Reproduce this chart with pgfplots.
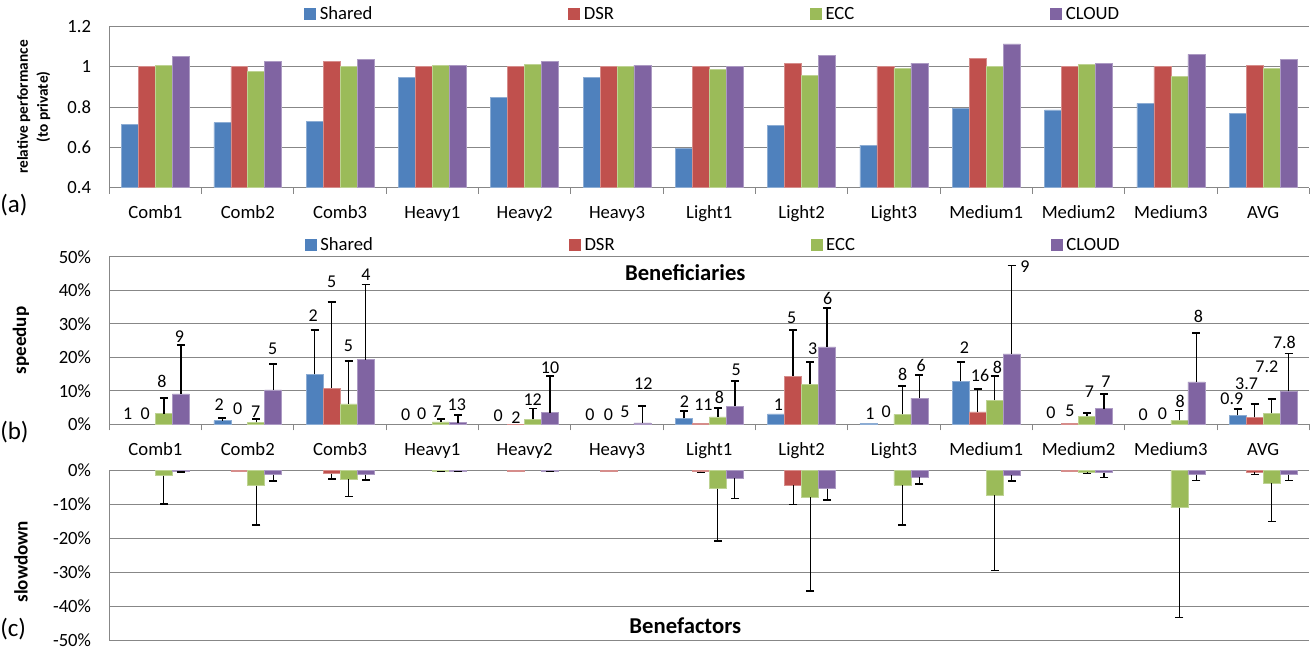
\documentclass[border=0pt]{standalone}
\usepackage{fontspec}
\setmainfont{Carlito}
\usepackage{pgfplots}
\pgfplotsset{compat=1.18}
\usepackage{pgfplotstable}
\definecolor{cshared}{HTML}{4F81BD}
\definecolor{cdsr}{HTML}{C0504D}
\definecolor{cecc}{HTML}{9BBB59}
\definecolor{ccloud}{HTML}{8064A2}
\definecolor{gridgray}{HTML}{878787}

\pgfplotstableread{
i shared dsr ecc cloud
0 0.714 1.000 1.008 1.050
1 0.722 1.000 0.978 1.025
2 0.728 1.028 1.003 1.038
3 0.949 1.000 1.005 1.008
4 0.849 1.000 1.013 1.025
5 0.949 1.000 1.002 1.008
6 0.596 1.000 0.988 1.002
7 0.710 1.018 0.959 1.055
8 0.610 1.000 0.993 1.018
9 0.793 1.040 1.003 1.114
10 0.786 1.000 1.010 1.018
11 0.818 1.000 0.952 1.061
12 0.770 1.008 0.993 1.035
}\perf

\pgfplotsset{
  common/.style={
    scale only axis, width=900pt, xmin=-0.5, xmax=12.5,
    axis line style={draw=gridgray, line width=0.75pt, -},
    ymajorgrids, major grid style={draw=gridgray, line width=0.75pt},
    major tick length=0pt, minor tick length=4.5pt, tick align=outside,
    minor tick style={draw=gridgray, line width=0.75pt},
    tick label style={font=\fontsize{14}{16}\selectfont},
    yticklabel style={inner sep=0pt, anchor=east, xshift=-13.5pt},
    xticklabel style={inner sep=0pt, anchor=base, yshift=-23pt},
    xtick={0,...,12}, minor xtick={-0.5,0.5,...,12.5},
    xticklabels={Comb1,Comb2,Comb3,Heavy1,Heavy2,Heavy3,Light1,Light2,Light3,Medium1,Medium2,Medium3,AVG},
    legend columns=4,
    legend style={draw=none, fill=none, inner sep=0pt, outer sep=0pt, anchor=west,
      font=\fontsize{14}{16}\selectfont, nodes={inner sep=1pt},
      /tikz/every even column/.append style={column sep=146pt},
      /tikz/every odd column/.append style={column sep=2pt}},
  },
  bars/.style={ybar, bar width=0.184, bar shift=0pt, fill=#1, draw=#1!65!white, line width=0.4pt, forget plot},
  ebB/.style={error bars/y dir=plus, error bars/y explicit,
    error bars/error bar style={black, line width=1.1pt},
    error bars/error mark options={rotate=90, black, line width=1.3pt, mark size=3pt}},
  ebC/.style={error bars/y dir=minus, error bars/y explicit,
    error bars/error bar style={black, line width=0.8pt},
    error bars/error mark options={rotate=90, black, line width=1.1pt, mark size=3pt}},
  labs/.style={only marks, mark=*, mark size=0pt, mark options={draw=none, fill=none}, forget plot,
    nodes near coords, point meta=explicit symbolic,
    every node near coord/.style={anchor=center, inner sep=0pt, font=\fontsize{13.5}{15}\selectfont, black}},
}

\newcommand{\legimgs}{%
  \addlegendimage{legend image code/.code={\fill[cshared] (0pt,-4.1pt) rectangle (8.2pt,4.1pt);}}
  \addlegendentry{Shared}
  \addlegendimage{legend image code/.code={\fill[cdsr] (0pt,-4.1pt) rectangle (8.2pt,4.1pt);}}
  \addlegendentry{DSR}
  \addlegendimage{legend image code/.code={\fill[cecc] (0pt,-4.1pt) rectangle (8.2pt,4.1pt);}}
  \addlegendentry{ECC}
  \addlegendimage{legend image code/.code={\fill[ccloud] (0pt,-4.1pt) rectangle (8.2pt,4.1pt);}}
  \addlegendentry{CLOUD}
}

\begin{document}
\begin{tikzpicture}
\useasboundingbox (0,0) rectangle (984pt,488.25pt);

% ---------------- panel (a)
\begin{axis}[common, at={(81.975pt,347.625pt)}, anchor=south west, height=120.75pt,
  axis x line*=bottom, axis y line*=left,
  ymin=0.4, ymax=1.2, ytick={0.4,0.6,0.8,1,1.2}, yticklabels={0.4,0.6,0.8,1,1.2},
  legend style={at={(0.1625,1.0776)}},
  ylabel={relative performance\\(to private)},
  ylabel style={at={(axis description cs:-0.063,0.5)}, anchor=center, align=center,
    font=\bfseries\fontsize{11.5}{15}\selectfont},
]
\legimgs
\addplot[bars=cshared] table[x expr=\thisrow{i}-0.276, y=shared] {\perf};
\addplot[bars=cdsr] table[x expr=\thisrow{i}-0.092, y=dsr] {\perf};
\addplot[bars=cecc] table[x expr=\thisrow{i}+0.092, y=ecc] {\perf};
\addplot[bars=ccloud] table[x expr=\thisrow{i}+0.276, y=cloud] {\perf};
\end{axis}

% ---------------- panel (b)
\begin{axis}[common, at={(81.975pt,170.0pt)}, anchor=south west, height=125.7pt,
  axis x line*=bottom, axis y line*=left, clip=false,
  ymin=0, ymax=50, ytick={0,10,20,30,40,50}, yticklabels={0\%,10\%,20\%,30\%,40\%,50\%},
  legend style={at={(0.163,1.0698)}},
  ylabel={speedup},
  ylabel style={at={(axis description cs:-0.0736,0.5)}, anchor=center,
    font=\bfseries\fontsize{14.3}{16}\selectfont},
]
\legimgs
% Shared
\addplot[bars=cshared, ebB] coordinates {(0.724,1.1) +- (0,0.9) (1.724,14.9) +- (0,13.3) (5.724,1.8) +- (0,2.2) (8.724,12.8) +- (0,5.8) (11.724,2.7) +- (0,1.8)};
\addplot[bars=cshared] coordinates {(6.724,3.1) (7.724,0.2)};
% DSR
\addplot[bars=cdsr, ebB] coordinates {(1.908,10.8) +- (0,25.6) (6.908,14.4) +- (0,13.8) (8.908,3.7) +- (0,6.8) (11.908,2.1) +- (0,4.0)};
\addplot[bars=cdsr] coordinates {(3.908,0.1) (5.908,0.2) (9.908,0.2)};
% ECC
\addplot[bars=cecc, ebB] coordinates {(0.092,3.2) +- (0,4.6) (1.092,0.6) +- (0,1.1) (2.092,6.1) +- (0,12.8) (3.092,0.7) +- (0,0.8) (4.092,1.5) +- (0,3.2) (6.092,2.2) +- (0,2.6) (7.092,12.0) +- (0,6.6) (8.092,3.0) +- (0,8.4) (9.092,7.2) +- (0,7.2) (10.092,2.4) +- (0,0.9) (11.092,1.2) +- (0,2.9) (12.092,3.3) +- (0,4.3)};
% CLOUD
\addplot[bars=ccloud, ebB] coordinates {(0.276,9.1) +- (0,14.5) (1.276,10.3) +- (0,7.7) (2.276,19.3) +- (0,22.4) (3.276,0.5) +- (0,2.3) (4.276,3.5) +- (0,11.0) (5.276,0.4) +- (0,5.0) (6.276,5.4) +- (0,7.6) (7.276,23.1) +- (0,11.6) (8.276,7.8) +- (0,7.0) (9.276,21.0) +- (0,26.4) (10.276,4.7) +- (0,4.3) (11.276,12.7) +- (0,14.5) (12.276,9.8) +- (0,11.3)};
% data labels
\addplot[labs] coordinates {
 (-0.30,3.1) [1] (-0.11,3.1) [0] (0.07,12.7) [8] (0.26,26.1) [9]
 (0.69,5.8) [2] (0.89,4.8) [0] (1.086,3.8) [7] (1.27,22.4) [5]
 (1.71,32.3) [2] (1.91,42.5) [5] (2.09,23.5) [5] (2.28,44.5) [4]
 (2.71,3.0) [0] (2.885,3.3) [0] (3.05,3.8) [7] (3.264,6.0) [13]
 (3.714,2.5) [0] (3.906,2.0) [2] (4.087,7.5) [12] (4.275,17.0) [10]
 (4.708,2.8) [0] (4.906,3.0) [0] (5.087,3.7) [5] (5.285,12.2) [12]
 (5.73,6.8) [2] (5.936,6.0) [11] (6.109,8.0) [8] (6.29,16.2) [5]
 (6.748,6.0) [1] (6.893,31.7) [5] (7.12,22.5) [3] (7.283,37.5) [6]
 (7.74,3.2) [1] (7.915,3.7) [0] (8.096,14.8) [8] (8.294,17.6) [6]
 (8.763,22.8) [2] (8.933,14.6) [16] (9.12,17.1) [8] (9.42,46.9) [9]
 (9.70,3.4) [0] (9.906,3.9) [5] (10.117,9.6) [7] (10.298,12.6) [7]
 (10.70,3.0) [0] (10.908,3.2) [0] (11.10,6.7) [8] (11.30,32.2) [8]
 (11.66,7.7) [0.9] (11.82,12.1) [3.7] (12.04,17.1) [7.2] (12.23,24.3) [7.8]
};
\node[font=\bfseries\fontsize{17}{20}\selectfont] at (rel axis cs:0.48,0.903) {Beneficiaries};
\end{axis}

% ---------------- panel (c)
\begin{axis}[common, at={(81.975pt,8.25pt)}, anchor=south west, height=127pt,
  axis x line=none, axis y line*=left, clip=false,
  ymin=-50, ymax=0, ytick={-50,-40,-30,-20,-10,0}, yticklabels={-50\%,-40\%,-30\%,-20\%,-10\%,0\%},
  ylabel={slowdown},
  ylabel style={at={(axis description cs:-0.0736,0.463)}, anchor=center,
    font=\bfseries\fontsize{14.3}{16}\selectfont},
]
% DSR
\addplot[bars=cdsr, ebC] coordinates {(1.908,-0.9) +- (0,1.6) (5.908,-0.3) +- (0,0.2) (6.908,-4.3) +- (0,5.7) (11.908,-0.5) +- (0,0.6)};
\addplot[bars=cdsr] coordinates {(0.908,-0.2) (3.908,-0.2) (4.908,-0.2) (9.908,-0.2)};
% ECC
\addplot[bars=cecc, ebC] coordinates {(0.092,-1.45) +- (0,8.45) (1.092,-4.4) +- (0,11.6) (2.092,-2.6) +- (0,5.0) (3.092,-0.2) +- (0,0.1) (6.092,-5.3) +- (0,15.5) (7.092,-7.8) +- (0,27.7) (8.092,-4.3) +- (0,11.8) (9.092,-7.2) +- (0,22.3) (10.092,-0.4) +- (0,0.5) (11.092,-10.9) +- (0,32.5) (12.092,-3.6) +- (0,11.4)};
% CLOUD
\addplot[bars=ccloud, ebC] coordinates {(0.276,-0.3) +- (0,0.1) (1.276,-1.2) +- (0,1.9) (2.276,-1.2) +- (0,1.5) (3.276,-0.2) +- (0,0.1) (4.276,-0.2) +- (0,0.1) (6.276,-2.3) +- (0,5.9) (7.276,-5.3) +- (0,3.3) (8.276,-1.9) +- (0,2.0) (9.276,-1.4) +- (0,1.6) (10.276,-0.6) +- (0,1.4) (11.276,-1.2) +- (0,1.7) (12.276,-1.2) +- (0,1.7)};
\node[font=\bfseries\fontsize{17}{20}\selectfont] at (rel axis cs:0.48,0.0855) {Benefactors};
\end{axis}

\node[anchor=west, inner sep=0pt, font=\fontsize{18.75}{20}\selectfont] at (0pt,334.5pt) {(a)};
\node[anchor=west, inner sep=0pt, font=\fontsize{18.75}{20}\selectfont] at (0pt,164.25pt) {(b)};
\node[anchor=west, inner sep=0pt, font=\fontsize{18.75}{20}\selectfont] at (0pt,16.5pt) {(c)};
\end{tikzpicture}
\end{document}
